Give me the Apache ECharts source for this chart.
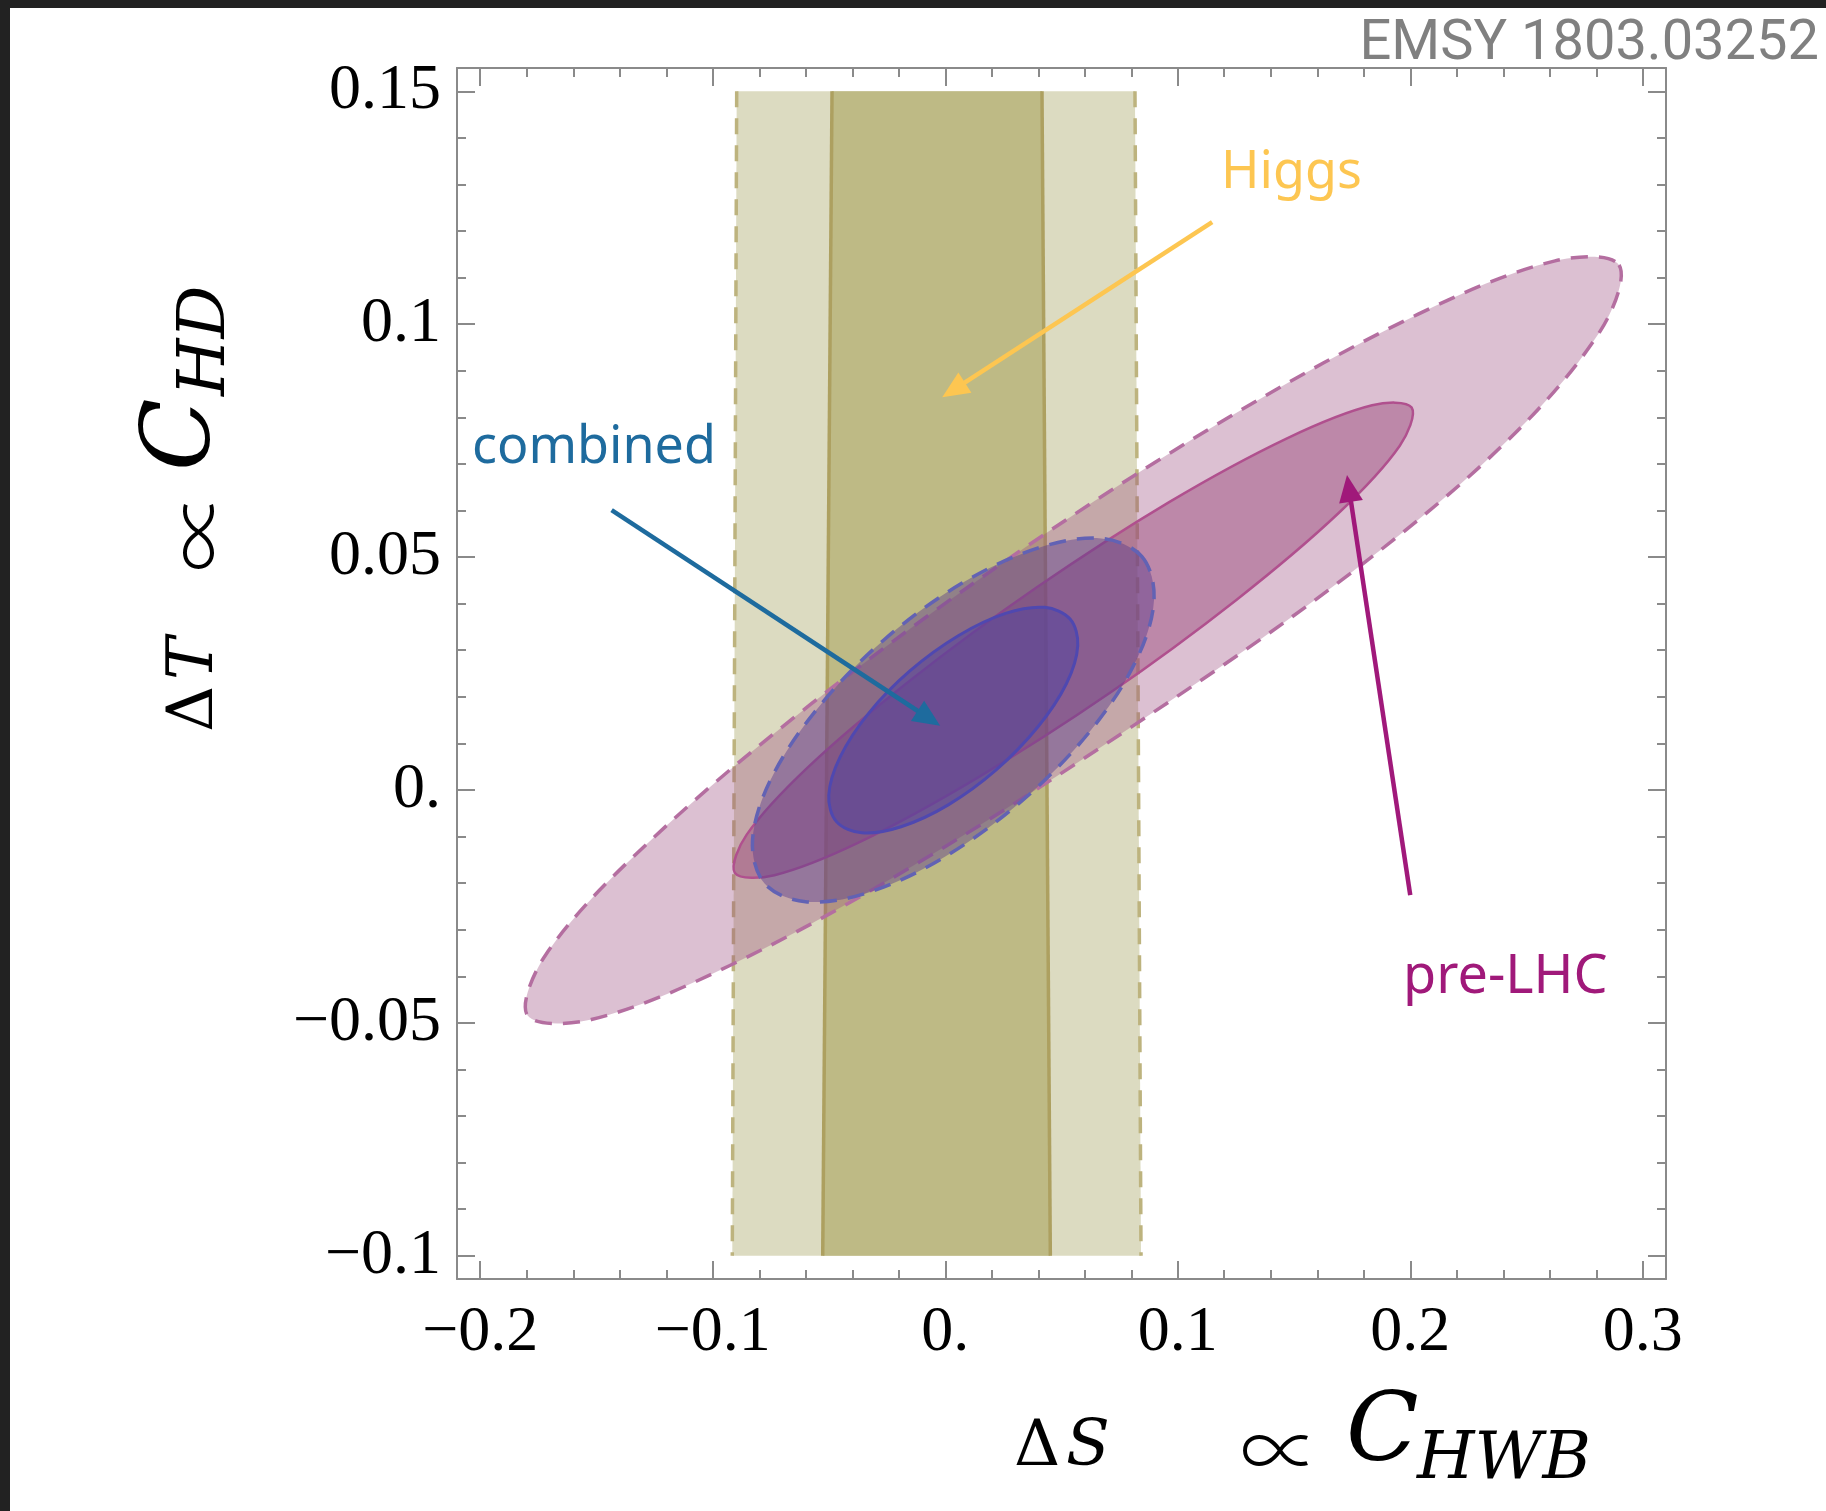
<!DOCTYPE html>
<html>
<head>
<meta charset="utf-8">
<script src="https://cdn.jsdelivr.net/npm/echarts@6/dist/echarts.min.js"></script>
<style>
html,body{margin:0;padding:0;background:#ffffff;}
#chart{width:1826px;height:1511px;}
</style>
</head>
<body>
<div id="chart"></div>
<script>
// ---------- data ----------
const xTickValues = [-0.2, -0.1, 0, 0.1, 0.2, 0.3];
const xTickLabels = ['\u22120.2', '\u22120.1', '0.', '0.1', '0.2', '0.3'];
const xMinorTicks = [-0.18,-0.16,-0.14,-0.12,-0.08,-0.06,-0.04,-0.02,0.02,0.04,0.06,0.08,0.12,0.14,0.16,0.18,0.22,0.24,0.26,0.28];
const yTickValues = [-0.1, -0.05, 0, 0.05, 0.1, 0.15];
const yTickLabels = ['\u22120.1', '\u22120.05', '0.', '0.05', '0.1', '0.15'];
const yMinorTicks = [-0.09,-0.08,-0.07,-0.06,-0.04,-0.03,-0.02,-0.01,0.01,0.02,0.03,0.04,0.06,0.07,0.08,0.09,0.11,0.12,0.13,0.14];

// Higgs bands: [x, y] corners (top-left, top-right, bottom-right, bottom-left)
const higgs95 = [[-0.0897, 0.15], [0.0816, 0.15], [0.0842, -0.10], [-0.0916, -0.10]];
const higgs68 = [[-0.0487, 0.15], [0.0416, 0.15], [0.0452, -0.10], [-0.0527, -0.10]];

// contour outlines [ΔS, ΔT]
const preLHC95 = [[0.2898,0.1127],[0.2817,0.0985],[0.2387,0.0735],[0.1682,0.0442],[0.0803,0.0136],[-0.0115,-0.0156],[-0.0931,-0.0378],[-0.1522,-0.0493],[-0.1797,-0.0484],[-0.1716,-0.0352],[-0.1288,-0.0118],[-0.0581,0.0183],[0.0298,0.0505],[0.1216,0.0799],[0.2032,0.1021],[0.2623,0.1136]];
const preLHC68 = [[0.2006,0.0821],[0.1955,0.0739],[0.1691,0.0594],[0.1252,0.0408],[0.0707,0.0208],[0.0138,0.0026],[-0.0369,-0.0112],[-0.0735,-0.0183],[-0.0905,-0.0178],[-0.0854,-0.0096],[-0.0590,0.0049],[-0.0151,0.0235],[0.0394,0.0435],[0.0963,0.0618],[0.1470,0.0755],[0.1836,0.0826]];
const combined95 = [[0.0846,0.0501],[0.0898,0.0408],[0.0819,0.0276],[0.0621,0.0125],[0.0333,-0.0022],[0.0000,-0.0143],[-0.0329,-0.0220],[-0.0601,-0.0240],[-0.0777,-0.0201],[-0.0829,-0.0109],[-0.0750,0.0023],[-0.0551,0.0174],[-0.0264,0.0322],[0.0069,0.0443],[0.0397,0.0519],[0.0670,0.0540]];
const combined68 = [[0.0537,0.0367],[0.0570,0.0310],[0.0521,0.0228],[0.0398,0.0135],[0.0219,0.0043],[0.0013,-0.0032],[-0.0190,-0.0079],[-0.0359,-0.0092],[-0.0468,-0.0068],[-0.0501,-0.0011],[-0.0452,0.0071],[-0.0329,0.0165],[-0.0151,0.0256],[0.0056,0.0331],[0.0259,0.0379],[0.0428,0.0392]];

// annotation arrows [xFrom, yFrom, xTo, yTo]
const higgsArrow = [0.1148, 0.1219, -0.0013, 0.0843];
const combinedArrow = [-0.1435, 0.0601, -0.0022, 0.0138];
const preLHCArrow = [0.2000, -0.0226, 0.1728, 0.0676];

// ---------- chart ----------
const X_MIN = -0.21, X_MAX = 0.31, Y_MIN = -0.105, Y_MAX = 0.155;
const FRAME = '#8a8a8a';

function lookup(vals, labels) {
  return function (v) {
    for (let i = 0; i < vals.length; i++) if (Math.abs(vals[i] - v) < 1e-9) return labels[i];
    return '';
  };
}

function axis(kind, pos, ticks, len, showLine, labelCfg) {
  return {
    type: 'value', position: pos,
    min: kind === 'x' ? X_MIN : Y_MIN, max: kind === 'x' ? X_MAX : Y_MAX,
    axisLine: { show: showLine, onZero: false, lineStyle: { color: FRAME, width: 2 } },
    axisTick: { show: true, inside: true, length: len, customValues: ticks, lineStyle: { color: FRAME, width: 2 } },
    axisLabel: labelCfg || { show: false },
    splitLine: { show: false }, minorTick: { show: false }, minorSplitLine: { show: false }
  };
}

const tickFont = { color: '#000', fontFamily: 'Liberation Serif', fontSize: 64 };

function polySeries(points, fill, stroke, dash, lw, smooth) {
  return {
    type: 'custom', coordinateSystem: 'cartesian2d', xAxisIndex: 0, yAxisIndex: 0,
    silent: true, clip: false, data: [points[0]],
    renderItem: function (params, api) {
      return {
        type: 'polygon',
        shape: { points: points.map(function (p) { return api.coord(p); }), smooth: smooth },
        style: { fill: fill, stroke: stroke, lineWidth: lw, lineDash: dash }
      };
    }
  };
}

function edgeSeries(band, stroke, dash) {
  return {
    type: 'custom', coordinateSystem: 'cartesian2d', xAxisIndex: 0, yAxisIndex: 0,
    silent: true, clip: false, data: [band[0]],
    renderItem: function (params, api) {
      const a = api.coord(band[0]), b = api.coord(band[3]), c = api.coord(band[1]), d = api.coord(band[2]);
      const st = { stroke: stroke, lineWidth: 3.5, lineDash: dash, fill: null };
      return { type: 'group', children: [
        { type: 'line', shape: { x1: a[0], y1: a[1], x2: b[0], y2: b[1] }, style: st },
        { type: 'line', shape: { x1: c[0], y1: c[1], x2: d[0], y2: d[1] }, style: st }
      ] };
    }
  };
}

function arrowSeries(arr, color) {
  return {
    type: 'custom', coordinateSystem: 'cartesian2d', xAxisIndex: 0, yAxisIndex: 0,
    silent: true, clip: false, z: 10, data: [arr],
    renderItem: function (params, api) {
      const p1 = api.coord([arr[0], arr[1]]), p2 = api.coord([arr[2], arr[3]]);
      const dx = p2[0] - p1[0], dy = p2[1] - p1[1], L = Math.sqrt(dx * dx + dy * dy);
      const ux = dx / L, uy = dy / L, hl = 27, hw = 12;
      const bx = p2[0] - ux * hl, by = p2[1] - uy * hl;
      return { type: 'group', children: [
        { type: 'line', shape: { x1: p1[0], y1: p1[1], x2: bx + ux * 3, y2: by + uy * 3 }, style: { stroke: color, lineWidth: 4.5 } },
        { type: 'polygon', shape: { points: [p2, [bx - uy * hw, by + ux * hw], [bx + uy * hw, by - ux * hw]] }, style: { fill: color } }
      ] };
    }
  };
}

function txt(x, y, text, size, family, color, opts) {
  opts = opts || {};
  return {
    type: 'text', x: x, y: y, rotation: opts.rotation || 0, silent: true, z: 20,
    style: {
      text: text, fill: color, fontSize: size, fontFamily: family,
      fontStyle: opts.italic ? 'italic' : 'normal',
      fontWeight: opts.weight || 'normal',
      align: opts.align || 'left', textAlign: opts.align || 'left',
      verticalAlign: 'middle', textVerticalAlign: 'middle'
    }
  };
}

const MATH = 'DejaVu Serif';
const THIN = 'Noto Sans CJK SC';
const ROT = Math.PI / 2;

const option = {
  animation: false,
  backgroundColor: '#ffffff',
  grid: { left: 457, top: 68, width: 1209, height: 1211, containLabel: false, outerBoundsMode: 'none' },
  xAxis: [
    axis('x', 'bottom', xTickValues, 18, true, Object.assign({ show: true, customValues: xTickValues, formatter: lookup(xTickValues, xTickLabels), margin: 22 }, tickFont)),
    axis('x', 'bottom', xMinorTicks, 9, false),
    axis('x', 'top', xTickValues, 18, true),
    axis('x', 'top', xMinorTicks, 9, false)
  ],
  yAxis: [
    axis('y', 'left', yTickValues, 18, true, Object.assign({ show: true, customValues: yTickValues, formatter: lookup(yTickValues, yTickLabels), margin: 16 }, tickFont)),
    axis('y', 'left', yMinorTicks, 9, false),
    axis('y', 'right', yTickValues, 18, true),
    axis('y', 'right', yMinorTicks, 9, false)
  ],
  series: [
    polySeries(higgs95, '#dcdbc1', null, null, 0, 0),
    polySeries(higgs68, '#bebA85', null, null, 0, 0),
    edgeSeries(higgs95, '#bdb37e', [16, 11]),
    edgeSeries(higgs68, '#ada060', null),
    polySeries(preLHC95, 'rgba(155,75,125,0.35)', '#b46ea0', [17, 11], 3.5, 0.34),
    polySeries(preLHC68, 'rgba(155,75,125,0.48)', '#b0508e', null, 2.5, 0.34),
    polySeries(combined95, 'rgba(90,60,140,0.45)', '#6262b4', [17, 11], 3.5, 0.34),
    polySeries(combined68, 'rgba(80,65,160,0.5)', '#4f48b0', null, 3, 0.34),
    arrowSeries(higgsArrow, '#fdc651'),
    arrowSeries(combinedArrow, '#1e6b9e'),
    arrowSeries(preLHCArrow, '#a0197a')
  ],
  graphic: { elements: [
    { type: 'rect', shape: { x: 0, y: 0, width: 1826, height: 8 }, style: { fill: '#222222' }, silent: true },
    { type: 'rect', shape: { x: 0, y: 0, width: 10, height: 1511 }, style: { fill: '#222222' }, silent: true },
    txt(1819, 45, 'EMSY 1803.03252', 56, 'Roboto', '#808080', { align: 'right' }),
    txt(1221, 173, 'Higgs', 52, 'Noto Sans', '#fdc651'),
    txt(472, 448, 'combined', 52, 'Noto Sans', '#1e6b9e'),
    txt(1403, 978, 'pre-LHC', 54, 'Noto Sans', '#a0197a'),
    // x axis title
    txt(1014, 1448, '\u0394', 64, MATH, '#000'),
    txt(1066, 1448, 'S', 64, MATH, '#000', { italic: true }),
    txt(1240, 1450, '\u221D', 80, THIN, '#000', { weight: 200 }),
    txt(1346, 1435, 'C', 95, MATH, '#000', { italic: true }),
    txt(1417, 1461, 'HWB', 66, MATH, '#000', { italic: true }),
    // y axis title (rotated)
    txt(195, 732, '\u0394', 64, MATH, '#000', { rotation: ROT }),
    txt(195, 680, 'T', 64, MATH, '#000', { rotation: ROT, italic: true }),
    txt(198, 572, '\u221D', 80, THIN, '#000', { rotation: ROT, weight: 200 }),
    txt(184, 471, 'C', 95, MATH, '#000', { rotation: ROT, italic: true }),
    txt(207, 396, 'HD', 66, MATH, '#000', { rotation: ROT, italic: true })
  ] }
};

const chart = echarts.init(document.getElementById('chart'), null, { renderer: 'canvas' });
chart.setOption(option);
</script>
</body>
</html>
